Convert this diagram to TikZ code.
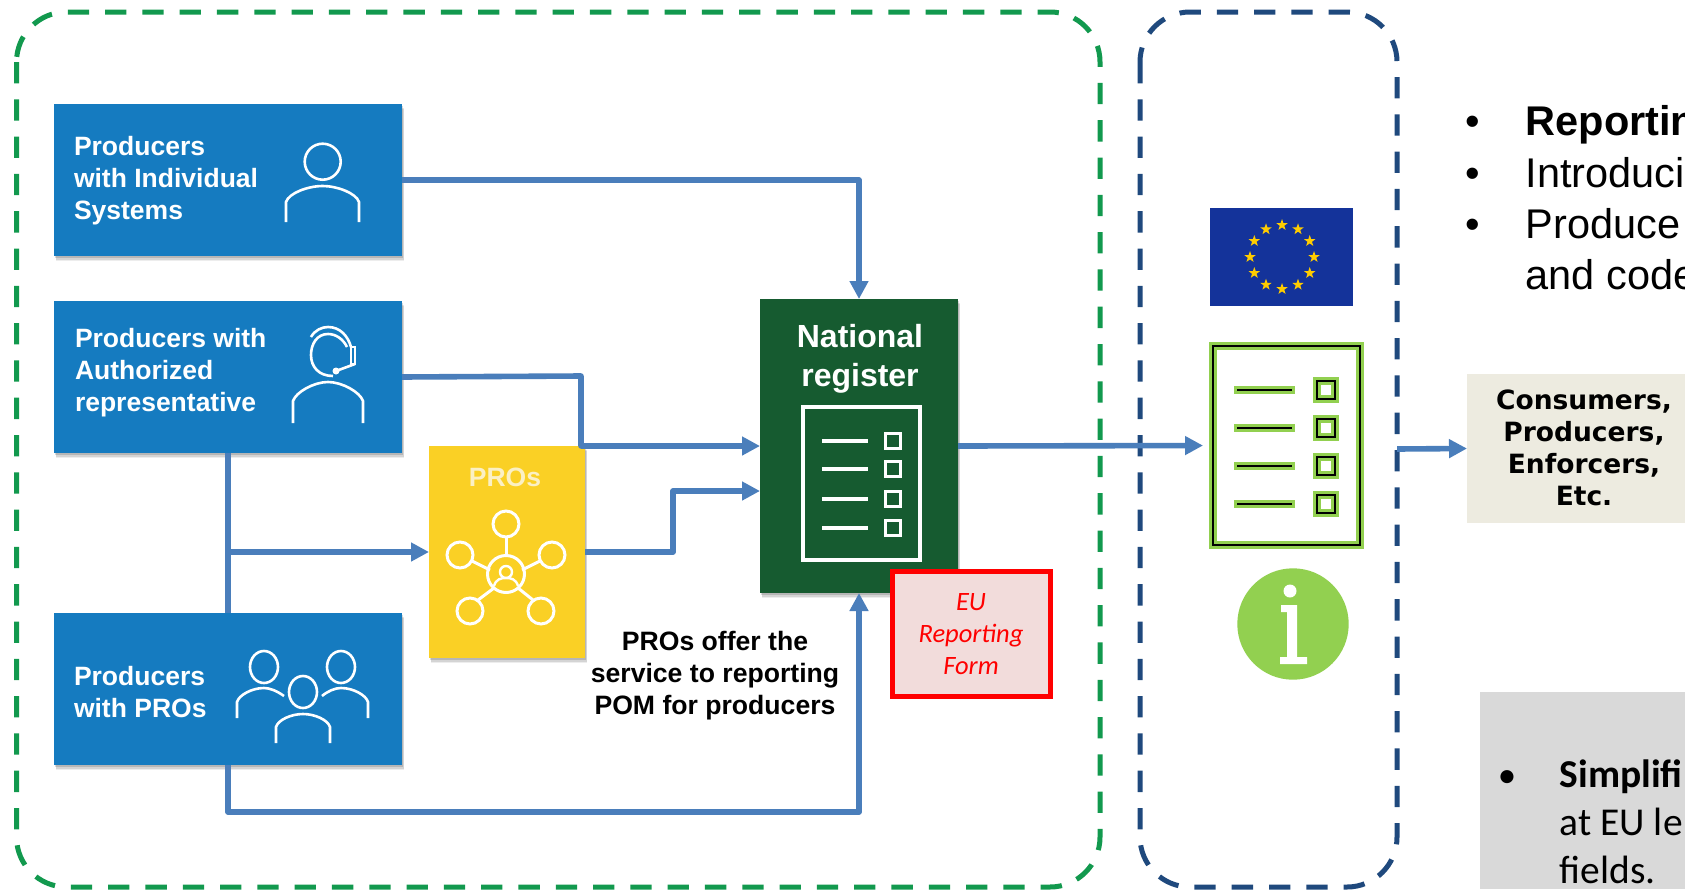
\documentclass[tikz,border=0pt]{standalone}
\usepackage{fontspec}
\setmainfont{Liberation Sans}
\newfontfamily\carlito{Carlito}
\newfontfamily\dejavu{DejaVu Sans}
\usetikzlibrary{arrows.meta,shadows,shapes.geometric}
\definecolor{dgreen}{RGB}{18,153,78}
\definecolor{dblue}{RGB}{31,73,125}
\definecolor{boxblue}{RGB}{21,123,192}
\definecolor{lineblue}{RGB}{74,126,187}
\definecolor{regreen}{RGB}{22,91,48}
\definecolor{proyellow}{RGB}{250,208,37}
\definecolor{lgreen}{RGB}{146,208,80}
\definecolor{pinkfill}{RGB}{242,220,219}
\definecolor{consfill}{RGB}{237,235,224}
\definecolor{greyfill}{RGB}{217,217,217}
\definecolor{flagblue}{RGB}{20,51,154}
\definecolor{stargold}{RGB}{255,204,0}
\definecolor{prolabel}{RGB}{251,240,196}
\tikzset{
  x=1pt,y=-1pt,
  zone/.style={line width=5pt,rounded corners=50pt,dash pattern=on 21.3pt off 16pt},
  solidbox/.style={inner sep=0pt,outer sep=0pt,draw=none},
  softshadow/.style={
    drop shadow={shadow xshift=2pt,shadow yshift=-5pt,fill=black,opacity=.07},
    drop shadow={shadow xshift=1.5pt,shadow yshift=-3.5pt,fill=black,opacity=.1},
    drop shadow={shadow xshift=1pt,shadow yshift=-2pt,fill=black,opacity=.14}},
  bluelabel/.style={anchor=base west,inner sep=0pt,outer sep=0pt,align=left,text=white,font=\fontsize{26.5}{32}\selectfont\bfseries},
  flow/.style={draw=lineblue,line width=5.6pt,line join=round},
  tip/.style={-{Triangle[length=18pt,width=18pt]}},
  ico/.style={draw=white,line width=2.6pt,line cap=butt},
  pro/.style={draw=white,line width=3pt},
  gline/.style={draw=lgreen,line width=8pt},
  kline/.style={draw=black,line width=2.5pt},
  bigbullet/.style={anchor=base,inner sep=0pt,font=\fontsize{41.5}{50}\selectfont},
  bigtext/.style={anchor=base west,inner sep=0pt,font=\fontsize{41.5}{50}\selectfont},
  calitext/.style={anchor=base west,inner sep=0pt,font=\fontsize{39.5}{48}\carlito},
}
\begin{document}
\begin{tikzpicture}
\useasboundingbox (0,0) rectangle (1685,889);
\clip (0,0) rectangle (1685,889);
\fill[white] (0,0) rectangle (1685,889);
% zones
\draw[zone,draw=dgreen] (16.5,12) rectangle (1100,887);
\draw[zone,draw=dblue] (1140,12) rectangle (1397,887);
% boxes
\node[solidbox,fill=boxblue,softshadow,minimum width=348pt,minimum height=152pt] (bxind) at (228,180) {};
\node[solidbox,fill=boxblue,softshadow,minimum width=348pt,minimum height=152pt] (bxauth) at (228,377) {};
\node[solidbox,fill=boxblue,softshadow,minimum width=348pt,minimum height=152pt] (bxpro) at (228,689) {};
\node[solidbox,fill=proyellow,softshadow,minimum width=156pt,minimum height=212pt] (pros) at (507,552) {};
\node[solidbox,fill=regreen,softshadow,minimum width=198pt,minimum height=294pt] (reg) at (859,446) {};
\node[solidbox,fill=consfill,minimum width=218pt,minimum height=149pt] (cons) at (1576,448.5) {};
\node[solidbox,fill=greyfill,minimum width=205pt,minimum height=197pt] (grey) at (1582.5,790.5) {};
\node[solidbox,fill=flagblue,minimum width=143pt,minimum height=98pt] (flag) at (1281.5,257) {};
\node[inner sep=0pt,outer sep=0pt,gline,fill=white,minimum width=147pt,minimum height=199pt] (listdoc) at (1286.5,445.5) {};
% connectors
\coordinate (r1) at (581,376);
\coordinate (j1) at (673,552);
\coordinate (regin2) at (760,491);
\coordinate (branch) at (228,552);
\coordinate (low) at (228,812);
\coordinate (low2) at (859,812);
\coordinate (top1) at (859,180);
\coordinate (dashout) at (1397,449);
\draw[flow,tip] (bxind.east) -- (top1) -- (reg.north);
\draw[flow,tip] (bxauth.east) -- (r1) -- (r1 |- reg.west) -- (reg.west);
\draw[flow,tip] (pros.east) -- (j1) -- (j1 |- regin2) -- (regin2);
\draw[flow] (bxauth.south) -- (bxpro.north);
\draw[flow,tip] (branch) -- (pros.west);
\draw[flow,tip] (bxpro.south) -- (low) -- (low2) -- (reg.south);
\draw[flow,tip,shorten >=10pt] (reg.east) -- (listdoc.west);
\draw[flow,tip] (dashout) -- (cons.west);
% red form
\node[draw=red,line width=5pt,fill=pinkfill,inner sep=0pt,minimum width=158pt,minimum height=125pt,text=red,align=center,font=\fontsize{26.5}{32}\carlito\itshape] (form) at (971,634) {EU\\Reporting\\Form};
% box labels
\node[bluelabel] (t1) at (74,219) {Producers\\with Individual\\Systems};
\node[bluelabel] (t2) at (75,411) {Producers with\\Authorized\\representative};
\node[bluelabel] (t3) at (74,717) {Producers\\with PROs};
\node[inner sep=0pt,text=prolabel,font=\fontsize{26.5}{32}\selectfont\bfseries] (protitle) at (505,477) {PROs};
\node[inner sep=0pt,text=white,align=center,font=\fontsize{32}{39}\selectfont\bfseries] (regtitle) at (860,358.5) {National\\register};
\node[inner sep=0pt,align=center,font=\fontsize{26.6}{32}\selectfont\bfseries] (offer) at (715,676) {PROs offer the\\service to reporting\\POM for producers};
\node[inner sep=0pt,align=center,font=\fontsize{26.5}{32}\dejavu\bfseries] (constext) at (1584,448) {Consumers,\\Producers,\\Enforcers,\\Etc.};
% person icons
\draw[ico] (322.7,161.7) circle (18);
\draw[ico] (286,222) -- (286,202) .. controls (289,193) and (308,186) .. (322.7,186) .. controls (337,186) and (356,193) .. (359,202) -- (359,222);
% headset
\draw[ico] (293,423) -- (293,401) .. controls (296,392) and (314,382) .. (328,382) .. controls (342,382) and (360,392) .. (363,401) -- (363,423);
\draw[ico] (347,347) .. controls (343,339) and (336,334) .. (328,334) .. controls (317,334) and (311,344) .. (311,355) .. controls (311,367) and (319,376) .. (333,376);
\draw[ico] (311,337) .. controls (315,330) and (322,327) .. (328,327) .. controls (340,327) and (348,336) .. (351,347);
\draw[ico,line width=2pt] (351,347) rectangle (355,364);
\draw[ico] (355,364) -- (336,371);
\fill[white] (336,371) circle (3.5);
% three persons
\draw[ico] (264,667) ellipse (14 and 16);
\draw[ico] (341,667) ellipse (14 and 16);
\draw[ico] (303,692) ellipse (14 and 16);
\draw[ico] (237,718) -- (237,702) .. controls (239,695) and (252,688) .. (264,688) .. controls (270,688) and (277,691) .. (284,696);
\draw[ico] (322,696) .. controls (328,691) and (335,688) .. (341,688) .. controls (353,688) and (366,695) .. (368,702) -- (368,718);
\draw[ico] (276,743) -- (276,727) .. controls (278,720) and (291,714) .. (303,714) .. controls (315,714) and (328,720) .. (330,727) -- (330,743);
% PRO network icon
\draw[pro] (506,574) circle (18.5);
\foreach \cx/\cy in {506/524,460/555,552/555,470/611,541/611}{\draw[pro] (\cx,\cy) circle (13);}
\draw[pro] (506,537) -- (506,555.5);
\draw[pro] (472,561) -- (490,570);
\draw[pro] (540,561) -- (522,570);
\draw[pro] (478,600) -- (494,588);
\draw[pro] (533,600) -- (518,588);
\draw[pro,line width=2.4pt] (506,572) circle (6);
\draw[pro,line width=2.4pt] (494,586) .. controls (496,579) and (501,578) .. (506,578) .. controls (511,578) and (516,579) .. (518,586);
% register list icon
\draw[draw=white,line width=3.6pt] (803,407) rectangle (920,560);
\foreach \ly in {441,469,499,528}{
  \draw[draw=white,line width=3.6pt] (822,\ly) -- (868,\ly);
  \draw[draw=white,line width=3.6pt] (885.5,\ly-7.5) rectangle (900.5,\ly+7.5);
}
% EU flag stars
\foreach \a in {0,30,...,330}{
  \node[star,star points=5,star point ratio=2.5,fill=stargold,inner sep=0pt,minimum size=12pt] (st\a) at ({1282+32*cos(\a)},{257+32*sin(\a)}) {};
}
% list icon detail
\draw[kline] (1213,346) rectangle (1360,545);
\foreach \ly in {390,428,466,504}{
  \draw[gline] (1234,\ly) -- (1295,\ly);
  \draw[kline] (1237,\ly) -- (1292,\ly);
  \draw[gline] (1317,\ly-9) rectangle (1335,\ly+9);
  \draw[kline] (1317,\ly-9) rectangle (1335,\ly+9);
}
% info icon
\fill[lgreen] (1293,624) circle (55.7);
\fill[white] (1290,591) circle (6.5);
\fill[white] (1281,605) -- (1297,605) -- (1297,657) -- (1307,657) -- (1307,664) -- (1280,664) -- (1280,657) -- (1287,657) -- (1287,612) -- (1281,612) -- cycle;
% right-hand text
\node[bigbullet] (b1) at (1473,135) {•};
\node[bigtext] (r1t) at (1525.5,135) {\bfseries Reportin};
\node[bigbullet] (b2) at (1473,187) {•};
\node[bigtext] (r2t) at (1525.5,187) {Introduci};
\node[bigbullet] (b3) at (1473,238) {•};
\node[bigtext] (r3t) at (1525.5,238) {Produce};
\node[bigtext] (r4t) at (1525.5,289) {and code};
\node[anchor=base,inner sep=0pt,font=\fontsize{37}{48}\carlito] (b4) at (1507,787) {•};
\node[calitext] (g1) at (1559.5,787) {\bfseries Simplifi};
\node[calitext] (g2) at (1559.5,835) {at EU le};
\node[calitext] (g3) at (1559.5,883) {fields.};
\end{tikzpicture}
\end{document}
